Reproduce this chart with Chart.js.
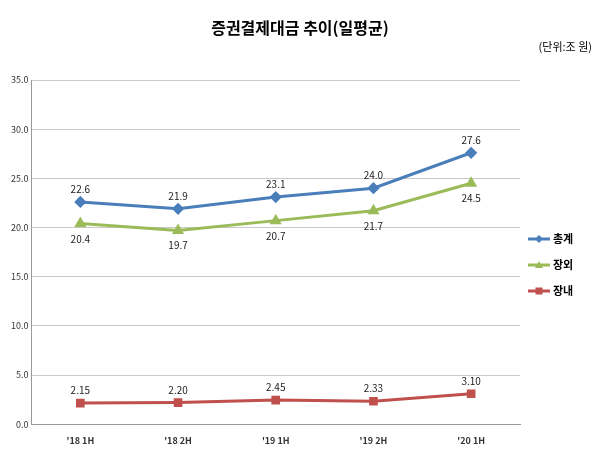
<!DOCTYPE html>
<html><head><meta charset="utf-8">
<script src="https://cdn.jsdelivr.net/npm/chart.js@4"></script>
<style>body{margin:0;background:#fff}#wrap{width:600px;height:459px;position:relative}</style>
</head><body><div id="wrap"><canvas id="c"></canvas></div>
<script>
const categories = ["'18 1H", "'18 2H", "'19 1H", "'19 2H", "'20 1H"];
const total = [22.6, 21.9, 23.1, 24.0, 27.6];
const offExchange = [20.4, 19.7, 20.7, 21.7, 24.5];
const onExchange = [2.15, 2.20, 2.45, 2.33, 3.10];
const totalLabels = ['22.6', '21.9', '23.1', '24.0', '27.6'];
const offLabels = ['20.4', '19.7', '20.7', '21.7', '24.5'];
const onLabels = ['2.15', '2.20', '2.45', '2.33', '3.10'];

const font = 'Noto Sans CJK KR, sans-serif';

const labelPlugin = {
  id: 'labels',
  afterDatasetsDraw(chart) {
    const c = chart.ctx;
    c.save();
    c.font = '10px ' + font;
    c.fillStyle = '#222';
    c.textAlign = 'center';
    const sets = [[0, totalLabels, -12], [1, offLabels, 16], [2, onLabels, -12]];
    sets.forEach(([i, texts, dy]) => {
      chart.getDatasetMeta(i).data.forEach((p, j) => {
        c.fillText(texts[j], p.x, p.y + dy + 3);
      });
    });
    // title
    c.font = 'bold 16px ' + font;
    c.fillStyle = '#000';
    c.fillText('증권결제대금 추이(일평균)', 300, 34);
    c.font = '11px ' + font;
    c.textAlign = 'right';
    c.fillText('(단위:조 원)', 592, 51);
    // legend
    const items = [['총계', '#4a7ebb', 'rectRot'], ['장외', '#9bbb59', 'triangle'], ['장내', '#c0504d', 'rect']];
    c.textAlign = 'left';
    c.font = 'bold 11px ' + font;
    items.forEach(([t, col, st], k) => {
      const y = 239 + k * 26;
      c.strokeStyle = col; c.lineWidth = 3;
      c.beginPath(); c.moveTo(528, y); c.lineTo(550, y); c.stroke();
      c.fillStyle = col;
      c.beginPath();
      if (st === 'rectRot') { c.moveTo(539, y - 4); c.lineTo(543, y); c.lineTo(539, y + 4); c.lineTo(535, y); }
      else if (st === 'triangle') { c.moveTo(539, y - 4); c.lineTo(543, y + 3); c.lineTo(535, y + 3); }
      else { c.rect(535.5, y - 3.5, 7, 7); }
      c.fill();
      c.fillStyle = '#000';
      c.fillText(t, 553, y + 4);
    });
    c.restore();
  }
};

function ds(label, data, color, style) {
  return { label, data, borderColor: color, backgroundColor: color, borderWidth: 3,
    pointStyle: style, pointRadius: 4, tension: 0 };
}

new Chart(document.getElementById('c'), {
  type: 'line',
  data: { labels: categories, datasets: [
    ds('총계', total, '#4a7ebb', 'rectRot'),
    ds('장외', offExchange, '#9bbb59', 'triangle'),
    ds('장내', onExchange, '#c0504d', 'rect')
  ]},
  options: {
    responsive: true, maintainAspectRatio: false, animation: false,
    layout: { padding: { top: 80, right: 80, left: 8, bottom: 10 } },
    plugins: { legend: { display: false }, tooltip: { enabled: false } },
    scales: {
      y: { min: 0, max: 35, ticks: { stepSize: 5, font: { size: 9, family: font }, color: '#333',
             callback: v => v.toFixed(1) },
           grid: { color: '#c8c8c8', drawTicks: false }, border: { color: '#999' } },
      x: { offset: true, ticks: { font: { size: 9, weight: 'bold', family: font }, color: '#333' },
           grid: { display: false }, border: { color: '#999' } }
    }
  },
  plugins: [labelPlugin]
});
</script></body></html>
